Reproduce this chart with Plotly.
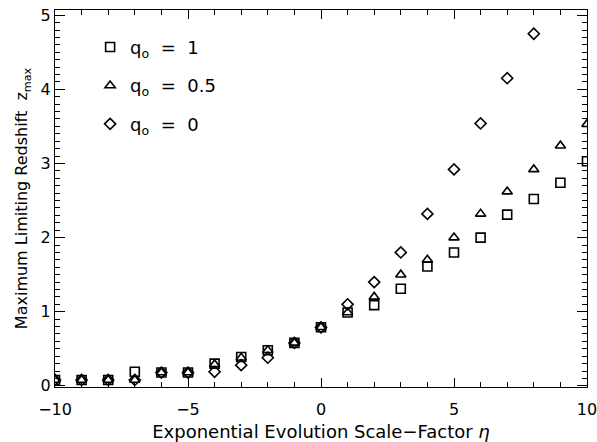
import plotly.graph_objects as go

eta_sq = [-10, -9, -8, -7, -6, -5, -4, -3, -2, -1, 0, 1, 2, 3, 4, 5, 6, 7, 8, 9, 10]
z_q1 = [0.08, 0.08, 0.08, 0.19, 0.18, 0.18, 0.30, 0.39, 0.48, 0.58, 0.79, 0.99, 1.09, 1.31, 1.61, 1.80, 2.00, 2.31, 2.52, 2.74, 3.03]

eta_tr = [-10, -9, -8, -7, -6, -5, -4, -3, -2, -1, 0, 1, 2, 3, 4, 5, 6, 7, 8, 9, 10]
z_q05 = [0.08, 0.08, 0.08, 0.08, 0.18, 0.18, 0.29, 0.38, 0.48, 0.58, 0.79, 0.99, 1.20, 1.50, 1.70, 2.00, 2.32, 2.62, 2.92, 3.24, 3.53]

eta_di = [-10, -9, -8, -7, -6, -5, -4, -3, -2, -1, 0, 1, 2, 3, 4, 5, 6, 7, 8]
z_q0 = [0.08, 0.08, 0.08, 0.08, 0.18, 0.18, 0.19, 0.28, 0.38, 0.58, 0.79, 1.10, 1.40, 1.80, 2.32, 2.92, 3.54, 4.15, 4.75]

x_range = [-10, 10]
y_range = [-0.015, 5.07]

NB = "\u00a0"
names = [f"q<sub>o</sub>{NB}{NB}={NB}{NB}1",
         f"q<sub>o</sub>{NB}{NB}={NB}{NB}0.5",
         f"q<sub>o</sub>{NB}{NB}={NB}{NB}0"]

FONT = "DejaVu Sans, Liberation Sans, sans-serif"

fig = go.Figure()
series = [
    (eta_sq, z_q1, "square-open", 9, names[0]),
    (eta_tr, z_q05, "triangle-up-open", 9, names[1]),
    (eta_di, z_q0, "diamond-open", 8.5, names[2]),
]
for i, (x, y, sym, sz, nm) in enumerate(series):
    fig.add_trace(go.Scatter(
        x=x, y=y, mode="markers", name=nm, legendgroup=f"g{i}",
        marker=dict(symbol=sym, size=sz, color="black", line=dict(color="black", width=1.6)),
        cliponaxis=True,
    ))

# empty helper trace so the mirrored tick axes (top / right) are drawn
fig.add_trace(go.Scatter(x=[], y=[], xaxis="x2", yaxis="y2", showlegend=False, hoverinfo="skip"))

tick_common = dict(ticks="inside", tickcolor="black", showgrid=False, zeroline=False,
                   automargin=False)

fig.update_layout(
    xaxis=dict(
        range=x_range, dtick=5, tick0=0, ticklen=9, tickwidth=1.2,
        showline=True, linecolor="black", linewidth=1.2, mirror=True,
        ticklabelstandoff=8, ticklabeloverflow="allow",
        tickfont=dict(family=FONT, size=16, color="black"),
        minor=dict(dtick=1, ticklen=5, ticks="inside", tickcolor="black", tickwidth=1),
        title=dict(text="Exponential Evolution Scale\u2212Factor <i>\u03b7</i>",
                   font=dict(family=FONT, size=18, color="black"), standoff=12),
        **tick_common,
    ),
    yaxis=dict(
        range=y_range, dtick=1, tick0=0, ticklen=10, tickwidth=1.2,
        showline=True, linecolor="black", linewidth=1.2, mirror=True,
        ticklabeloverflow="allow",
        tickfont=dict(family=FONT, size=16, color="black"),
        minor=dict(dtick=0.1, ticklen=5, ticks="inside", tickcolor="black", tickwidth=1),
        title=dict(text=f"Maximum Limiting Redshift{NB}{NB}z<sub>max</sub>",
                   font=dict(family=FONT, size=16, color="black"), standoff=8),
        **tick_common,
    ),
    xaxis2=dict(
        overlaying="x", side="top", anchor="y2", range=x_range, dtick=5, tick0=0,
        ticklen=9, tickwidth=1.2, showticklabels=False, showline=False,
        minor=dict(dtick=1, ticklen=5, ticks="inside", tickcolor="black", tickwidth=1),
        **tick_common,
    ),
    yaxis2=dict(
        overlaying="y", side="right", anchor="x2", range=y_range, dtick=1, tick0=0,
        ticklen=10, tickwidth=1.2, showticklabels=False, showline=False,
        minor=dict(dtick=0.1, ticklen=5, ticks="inside", tickcolor="black", tickwidth=1),
        **tick_common,
    ),
    width=597, height=442,
    margin=dict(l=55, r=10, t=10, b=55),
    paper_bgcolor="white", plot_bgcolor="white",
    showlegend=True,
    legend=dict(x=0.066, y=0.95, xanchor="left", yanchor="top",
                bgcolor="rgba(0,0,0,0)", tracegroupgap=12,
                font=dict(family=FONT, size=18, color="black")),
)

fig.write_html("out.html")
